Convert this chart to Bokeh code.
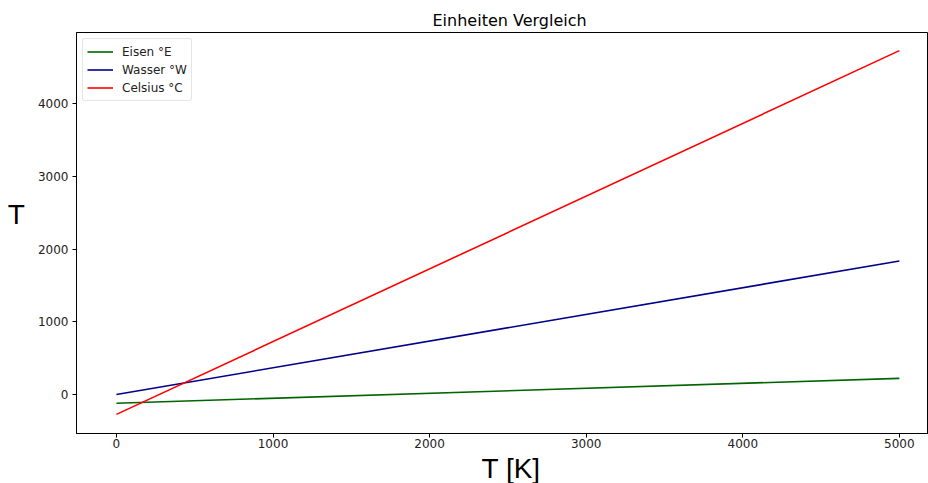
from bokeh.plotting import figure
from bokeh.models import Range1d, FixedTicker, Legend, LegendItem, Title
from bokeh.embed import file_html
from bokeh.resources import INLINE

kelvin = [0, 5000]
eisen = [-120, 222]
wasser = [0, 1835]
celsius = [-273.15, 4726.85]
series_names = ["Eisen °E", "Wasser °W", "Celsius °C"]
series_colors = ["#006400", "#00008b", "#ff0000"]
x_ticks = [0, 1000, 2000, 3000, 4000, 5000]
y_ticks = [0, 1000, 2000, 3000, 4000]
x_label = "T [K]"
y_label = "T"

p = figure(width=928, height=483, output_backend="svg", toolbar_location=None,
           x_range=Range1d(-255, 5186), y_range=Range1d(-536, 4976),
           title="Einheiten Vergleich", min_border_left=76, min_border_right=0,
           min_border_top=32, min_border_bottom=50)
p.background_fill_color = "white"
p.border_fill_color = "white"
p.outline_line_color = "black"
p.outline_line_width = 1
p.grid.visible = False

p.title.align = "left"
p.title.text_font = "DejaVu Sans"
p.title.text_font_size = "16px"
p.title.text_font_style = "normal"
p.title.text_color = "black"
p.title.offset = 356
p.title.standoff = 6

for ax in (p.xaxis[0], p.yaxis[0]):
    ax.major_label_text_font = "DejaVu Sans"
    ax.major_label_text_font_size = "12px"
    ax.major_label_text_color = "#222222"
    ax.major_tick_out = 4
    ax.major_tick_in = 0
    ax.minor_tick_out = 0
    ax.minor_tick_in = 0
    ax.axis_line_color = "black"
    ax.major_tick_line_color = "black"

p.xaxis.ticker = FixedTicker(ticks=x_ticks)
p.yaxis.ticker = FixedTicker(ticks=y_ticks)
p.xaxis.major_label_standoff = 1
p.yaxis.major_label_standoff = 4

p.yaxis.axis_label = y_label + "\n "
p.yaxis.axis_label_orientation = "horizontal"
p.yaxis.axis_label_text_font = "Liberation Sans"
p.yaxis.axis_label_text_font_style = "normal"
p.yaxis.axis_label_text_font_size = "28px"
p.yaxis.axis_label_text_color = "black"
p.yaxis.axis_label_standoff = 10

xt = Title(text=x_label, align="left", offset=405, standoff=0,
           text_font="Liberation Sans", text_font_size="28px",
           text_font_style="normal", text_color="black")
p.add_layout(xt, "below")

items = []
for ys, name, col in zip([eisen, wasser, celsius], series_names, series_colors):
    r = p.line(kelvin, ys, line_color=col, line_width=1.6)
    items.append(LegendItem(label=name, renderers=[r]))

legend = Legend(items=items, location="top_left")
legend.label_text_font = "DejaVu Sans"
legend.label_text_font_size = "12px"
legend.label_text_color = "#222222"
legend.glyph_width = 26
legend.glyph_height = 17
legend.label_height = 17
legend.label_standoff = 9
legend.spacing = 1
legend.padding = 4
legend.margin = 6
legend.border_line_color = "#cccccc"
legend.border_line_width = 1
legend.border_radius = 3
legend.background_fill_alpha = 0.8
p.add_layout(legend)

open("out.html", "w").write(file_html(p, INLINE))
